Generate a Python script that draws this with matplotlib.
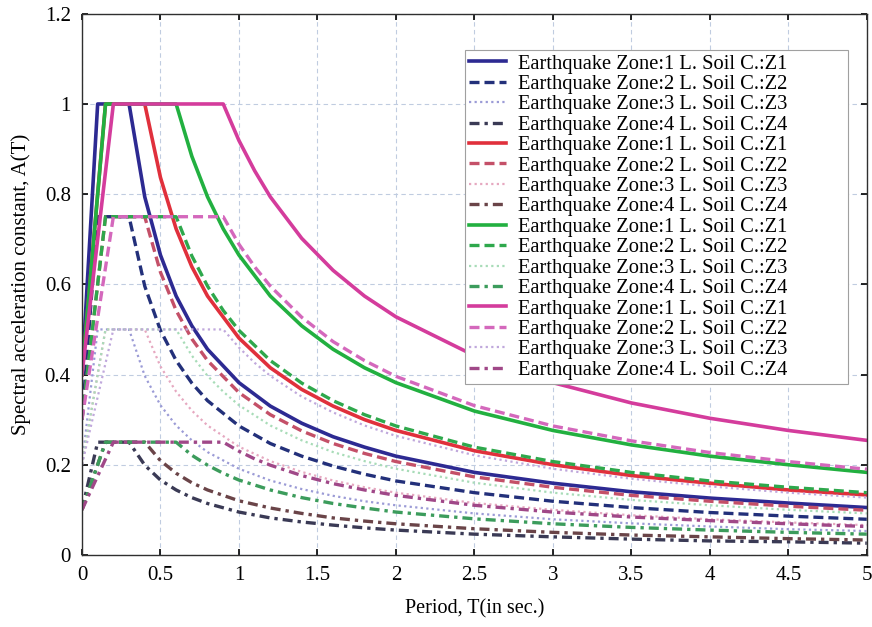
"""
Elastic design spectra A(T) for the four earthquake zones and four local soil classes.
"""

import matplotlib.pyplot as plt

# period points (s) for each local soil class
period_soil_z1 = [0, 0.1, 0.3, 0.4, 0.5, 0.6, 0.7, 0.8, 1.0, 1.2, 1.4, 1.6, 1.8, 2.0, 2.5, 3.0, 3.5, 4.0, 4.5, 5.0]
period_soil_z2 = [0, 0.15, 0.4, 0.5, 0.6, 0.7, 0.8, 1.0, 1.2, 1.4, 1.6, 1.8, 2.0, 2.5, 3.0, 3.5, 4.0, 4.5, 5.0]
period_soil_z3 = [0, 0.15, 0.6, 0.7, 0.8, 0.9, 1.0, 1.2, 1.4, 1.6, 1.8, 2.0, 2.5, 3.0, 3.5, 4.0, 4.5, 5.0]
period_soil_z4 = [0, 0.2, 0.9, 1.0, 1.1, 1.2, 1.4, 1.6, 1.8, 2.0, 2.5, 3.0, 3.5, 4.0, 4.5, 5.0]

# spectral acceleration constant, soil class Z1
a_z1_zone1 = [0.40, 1.00, 1.00, 0.794, 0.665, 0.574, 0.508, 0.456, 0.382, 0.330, 0.292, 0.262, 0.239, 0.219, 0.183, 0.159, 0.140, 0.126, 0.115, 0.105]
a_z1_zone2 = [0.30, 0.75, 0.75, 0.596, 0.498, 0.431, 0.381, 0.342, 0.286, 0.247, 0.219, 0.197, 0.179, 0.164, 0.138, 0.119, 0.105, 0.094, 0.086, 0.079]
a_z1_zone3 = [0.20, 0.50, 0.50, 0.397, 0.332, 0.287, 0.254, 0.228, 0.191, 0.165, 0.146, 0.131, 0.119, 0.110, 0.092, 0.079, 0.070, 0.063, 0.057, 0.053]
a_z1_zone4 = [0.10, 0.25, 0.25, 0.199, 0.166, 0.144, 0.127, 0.114, 0.095, 0.082, 0.073, 0.066, 0.060, 0.055, 0.046, 0.040, 0.035, 0.031, 0.029, 0.026]

# soil class Z2
a_z2_zone1 = [0.40, 1.00, 1.00, 0.837, 0.723, 0.639, 0.574, 0.481, 0.415, 0.367, 0.330, 0.300, 0.276, 0.231, 0.200, 0.176, 0.159, 0.144, 0.133]
a_z2_zone2 = [0.30, 0.75, 0.75, 0.627, 0.542, 0.479, 0.431, 0.360, 0.311, 0.275, 0.247, 0.225, 0.207, 0.173, 0.150, 0.132, 0.119, 0.108, 0.099]
a_z2_zone3 = [0.20, 0.50, 0.50, 0.418, 0.362, 0.320, 0.287, 0.240, 0.208, 0.184, 0.165, 0.150, 0.138, 0.115, 0.100, 0.088, 0.079, 0.072, 0.066]
a_z2_zone4 = [0.10, 0.25, 0.25, 0.209, 0.181, 0.160, 0.144, 0.120, 0.104, 0.092, 0.082, 0.075, 0.069, 0.058, 0.050, 0.044, 0.040, 0.036, 0.033]

# soil class Z3
a_z3_zone1 = [0.40, 1.00, 1.00, 0.884, 0.794, 0.723, 0.665, 0.574, 0.508, 0.456, 0.415, 0.382, 0.319, 0.276, 0.244, 0.219, 0.200, 0.183]
a_z3_zone2 = [0.30, 0.75, 0.75, 0.663, 0.596, 0.542, 0.498, 0.431, 0.381, 0.342, 0.311, 0.286, 0.239, 0.207, 0.183, 0.164, 0.150, 0.138]
a_z3_zone3 = [0.20, 0.50, 0.50, 0.442, 0.397, 0.362, 0.332, 0.287, 0.254, 0.228, 0.208, 0.191, 0.160, 0.138, 0.122, 0.110, 0.100, 0.092]
a_z3_zone4 = [0.10, 0.25, 0.25, 0.221, 0.199, 0.181, 0.166, 0.144, 0.127, 0.114, 0.104, 0.095, 0.080, 0.069, 0.061, 0.055, 0.050, 0.046]

# soil class Z4
a_z4_zone1 = [0.40, 1.00, 1.00, 0.919, 0.852, 0.794, 0.702, 0.631, 0.574, 0.528, 0.442, 0.382, 0.337, 0.303, 0.276, 0.254]
a_z4_zone2 = [0.30, 0.75, 0.75, 0.689, 0.639, 0.596, 0.527, 0.473, 0.431, 0.396, 0.331, 0.286, 0.253, 0.227, 0.207, 0.190]
a_z4_zone3 = [0.20, 0.50, 0.50, 0.460, 0.426, 0.397, 0.351, 0.316, 0.287, 0.264, 0.221, 0.191, 0.169, 0.152, 0.138, 0.127]
a_z4_zone4 = [0.10, 0.25, 0.25, 0.230, 0.213, 0.199, 0.176, 0.158, 0.144, 0.132, 0.110, 0.095, 0.084, 0.076, 0.069, 0.063]

legend_labels = [
    "Earthquake Zone:1 L. Soil C.:Z1",
    "Earthquake Zone:2 L. Soil C.:Z2",
    "Earthquake Zone:3 L. Soil C.:Z3",
    "Earthquake Zone:4 L. Soil C.:Z4",
]

x_ticks = [0, 0.5, 1, 1.5, 2, 2.5, 3, 3.5, 4, 4.5, 5]
x_tick_labels = ["0", "0.5", "1", "1.5", "2", "2.5", "3", "3.5", "4", "4.5", "5"]
y_ticks = [0, 0.2, 0.4, 0.6, 0.8, 1.0, 1.2]
y_tick_labels = ["0", "0.2", "0.4", "0.6", "0.8", "1", "1.2"]

groups = [
    (period_soil_z1, [a_z1_zone1, a_z1_zone2, a_z1_zone3, a_z1_zone4],
     ["#2d2a92", "#23307a", "#9b9bd6", "#3a3a55"]),
    (period_soil_z2, [a_z2_zone1, a_z2_zone2, a_z2_zone3, a_z2_zone4],
     ["#e0303c", "#c45068", "#e6a8c0", "#6a4448"]),
    (period_soil_z3, [a_z3_zone1, a_z3_zone2, a_z3_zone3, a_z3_zone4],
     ["#22b040", "#2ea84c", "#a8dcb8", "#3c9c5c"]),
    (period_soil_z4, [a_z4_zone1, a_z4_zone2, a_z4_zone3, a_z4_zone4],
     ["#d43c9c", "#d468bc", "#c0a8dc", "#a04888"]),
]
styles = ["-", (0, (3, 1.5)), (0, (1, 1.5)), (0, (3, 1.5, 1, 1.5))]
widths = [2.6, 2.4, 1.6, 2.4]

plt.rcParams["font.family"] = ["Liberation Serif", "DejaVu Serif"]

fig = plt.figure(figsize=(8.72, 6.27), dpi=100)
ax = fig.add_axes([0.094, 0.115, 0.9, 0.863])

for period, series, colors in groups:
    for i, values in enumerate(series):
        ax.plot(period, values, color=colors[i], linestyle=styles[i],
                linewidth=widths[i], label=legend_labels[i])

ax.set_xlim(0, 5)
ax.set_ylim(0, 1.2)
ax.set_xticks(x_ticks)
ax.set_xticklabels(x_tick_labels)
ax.set_yticks(y_ticks)
ax.set_yticklabels(y_tick_labels)
ax.tick_params(direction="in", length=4, width=1.2, labelsize=15,
               top=True, right=True, pad=8)
ax.grid(True, color="#c0cce0", linestyle=(0, (4, 3)), linewidth=0.8)
for side in ax.spines.values():
    side.set_color("#303030")
    side.set_linewidth(1.0)

ax.set_xlabel("Period, T(in sec.)", fontsize=14.5, labelpad=10)
ax.set_ylabel("Spectral acceleration constant, A(T)", fontsize=15, labelpad=10)

leg = ax.legend(loc="upper left", bbox_to_anchor=(0.488, 0.0, 0.488, 0.933),
                mode="expand", fontsize=14.8, labelspacing=0.05,
                handlelength=1.8, handletextpad=0.6, borderpad=0.2,
                borderaxespad=0.0, fancybox=False, framealpha=1.0)
leg.get_frame().set_edgecolor("#a0a0a0")
leg.get_frame().set_linewidth(0.8)

fig.savefig("out.png", dpi=100)
